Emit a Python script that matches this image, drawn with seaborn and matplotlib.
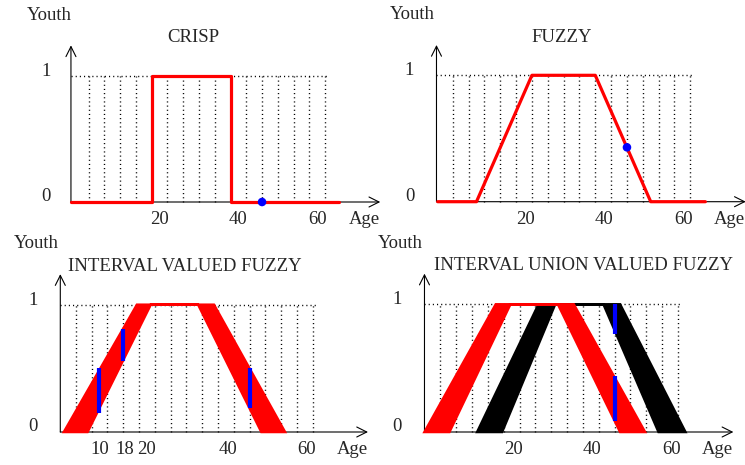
import numpy as np
import matplotlib
matplotlib.use("Agg")
import matplotlib.pyplot as plt
import seaborn as sns

# ---------------- data ----------------
crisp_age = [-2.5, 18, 18, 38, 38, 65.5]
crisp_youth = [0, 0, 1, 1, 0, 0]
crisp_point_age = [46]
crisp_point_youth = [0]

fuzzy_age = [-1.8, 8, 22, 38, 52, 65.8]
fuzzy_youth = [0, 0, 1, 1, 0, 0]
fuzzy_point_age = [46]
fuzzy_point_youth = [0.43]

trap_youth = [0, 1, 1, 0]

iv_upper_age = [-1, 17.5, 37, 55]
iv_lower_age = [5, 21, 33, 49]
iv_bar_age = [8, 14, 46]
iv_bar_low = [0.15, 0.56, 0.19]
iv_bar_high = [0.50, 0.81, 0.50]

iuv_red_upper_age = [-2, 16, 35.7, 53.7]
iuv_red_lower_age = [4.3, 19.7, 31.7, 47.4]
iuv_black_upper_age = [11.3, 26.8, 47.4, 63.9]
iuv_black_lower_age = [17.6, 31, 43.2, 57.1]
iuv_bar_age = [46, 46]
iuv_bar_low = [0.77, 0.084]
iuv_bar_high = [1.0, 0.44]

titles = ["CRISP", "FUZZY", "INTERVAL VALUED FUZZY", "INTERVAL UNION VALUED FUZZY"]
tick_values = [20, 40, 60]
iv_tick_labels = ["10", "18", "20", "40", "60"]

# ---------------- style / layout ----------------
sns.set_theme(style="white")
plt.rcParams["font.family"] = ["Liberation Serif", "DejaVu Serif"]
FS = 13.5
RED, BLUE, BLACK = "#ff0000", "#0000ff", "#000000"

W, H = 745, 465
fig = plt.figure(figsize=(W / 100, H / 100), dpi=100)

# pixel mapping per panel: age0 px, px per age, y0 px, y1 px, rect (L,T,R,B)
panels = [
    dict(x0=80.8, sx=3.94, Y0=202.0, Y1=75.7, rect=(0, 0, 372, 232), yax=-2.5),
    dict(x0=444.8, sx=3.96, Y0=201.7, Y1=75.3, rect=(372, 0, 745, 232), yax=-2.1),
    dict(x0=67.8, sx=3.95, Y0=432.0, Y1=304.7, rect=(0, 232, 372, 465), yax=-1.9),
    dict(x0=432.4, sx=3.96, Y0=432.0, Y1=304.3, rect=(372, 232, 745, 465), yax=-2.0),
]

axes = []
for p in panels:
    L, T, R, B = p["rect"]
    ax = fig.add_axes([L / W, 1 - B / H, (R - L) / W, (B - T) / H])
    ax.set_xlim((L - p["x0"]) / p["sx"], (R - p["x0"]) / p["sx"])
    ax.set_ylim((p["Y0"] - B) / (p["Y0"] - p["Y1"]), (p["Y0"] - T) / (p["Y0"] - p["Y1"]))
    ax.set_axis_off()
    axes.append(ax)

grid_ages = np.arange(2, 63, 4)
dot = (0, (0.8, 2.2))


def frame(ax, p, title, title_x, title_ha="center"):
    # dotted grid
    ax.vlines(grid_ages, 0, 1, colors=BLACK, linestyles=dot, lw=1.0, zorder=1)
    ax.hlines(1, p["yax"], 63, colors=BLACK, linestyles=dot, lw=1.0, zorder=1)
    # axes with arrows
    arrow = dict(arrowstyle="->,head_length=0.6,head_width=0.3", lw=0.8,
                 color=BLACK, shrinkA=0, shrinkB=0)
    ax.annotate("", xy=(76, 0), xytext=(p["yax"], 0), arrowprops=arrow,
                annotation_clip=False, zorder=2)
    ax.annotate("", xy=(p["yax"], 1.24), xytext=(p["yax"], 0), arrowprops=arrow,
                annotation_clip=False, zorder=2)
    # texts
    ax.text(-8.1, 1.48, "Youth", fontsize=FS, ha="center", va="center", clip_on=False)
    ax.text(-8.9, 1.035, "1", fontsize=FS, ha="center", va="center", clip_on=False)
    ax.text(-8.9, 0.04, "0", fontsize=FS, ha="center", va="center", clip_on=False)
    ax.text(68, -0.14, "Age", fontsize=FS, ha="left", va="center", clip_on=False)
    ax.text(title_x, 1.30, title, fontsize=FS, ha=title_ha, va="center", clip_on=False)


def band(ax, upper, lower, color, z):
    xs = list(upper) + list(lower)[::-1]
    ys = list(trap_youth) + list(trap_youth)[::-1]
    ax.fill(xs, ys, color=color, lw=1.8, ec=color, zorder=z)


# ---- panel 1: crisp ----
ax, p = axes[0], panels[0]
frame(ax, p, titles[0], 28.5)
sns.lineplot(x=crisp_age, y=crisp_youth, ax=ax, color=RED, lw=2.3,
             sort=False, estimator=None, zorder=3)
sns.scatterplot(x=crisp_point_age, y=crisp_point_youth, ax=ax, color=BLUE,
                s=38, edgecolor="none", zorder=4)
for v in tick_values:
    ax.text(v, -0.14, str(v), fontsize=FS, ha="center", va="center", clip_on=False)

# ---- panel 2: fuzzy ----
ax, p = axes[1], panels[1]
frame(ax, p, titles[1], 29.6)
sns.lineplot(x=fuzzy_age, y=fuzzy_youth, ax=ax, color=RED, lw=2.3,
             sort=False, estimator=None, zorder=3)
sns.scatterplot(x=fuzzy_point_age, y=fuzzy_point_youth, ax=ax, color=BLUE,
                s=38, edgecolor="none", zorder=4)
for v in tick_values:
    ax.text(v + 0.3, -0.14, str(v), fontsize=FS, ha="center", va="center", clip_on=False)

# ---- panel 3: interval valued fuzzy ----
ax, p = axes[2], panels[2]
frame(ax, p, titles[2], 0, "left")
band(ax, iv_upper_age, iv_lower_age, RED, 3)
ax.vlines(iv_bar_age, iv_bar_low, iv_bar_high, colors=BLUE, lw=3.0, zorder=5)
iv_tick_pos = [8.2, 14.5, 20, 40.5, 60.5]
for pos, lab in zip(iv_tick_pos, iv_tick_labels):
    ax.text(pos, -0.14, lab, fontsize=FS, ha="center", va="center", clip_on=False)

# ---- panel 4: interval union valued fuzzy ----
ax, p = axes[3], panels[3]
frame(ax, p, titles[3], 0.3, "left")
band(ax, iuv_black_upper_age, iuv_black_lower_age, BLACK, 3)
band(ax, iuv_red_upper_age, iuv_red_lower_age, RED, 4)
ax.vlines(iuv_bar_age, iuv_bar_low, iuv_bar_high, colors=BLUE, lw=3.0, zorder=5)
for v in tick_values:
    ax.text(v + 0.4, -0.14, str(v), fontsize=FS, ha="center", va="center", clip_on=False)

fig.savefig("out.png", dpi=100)
